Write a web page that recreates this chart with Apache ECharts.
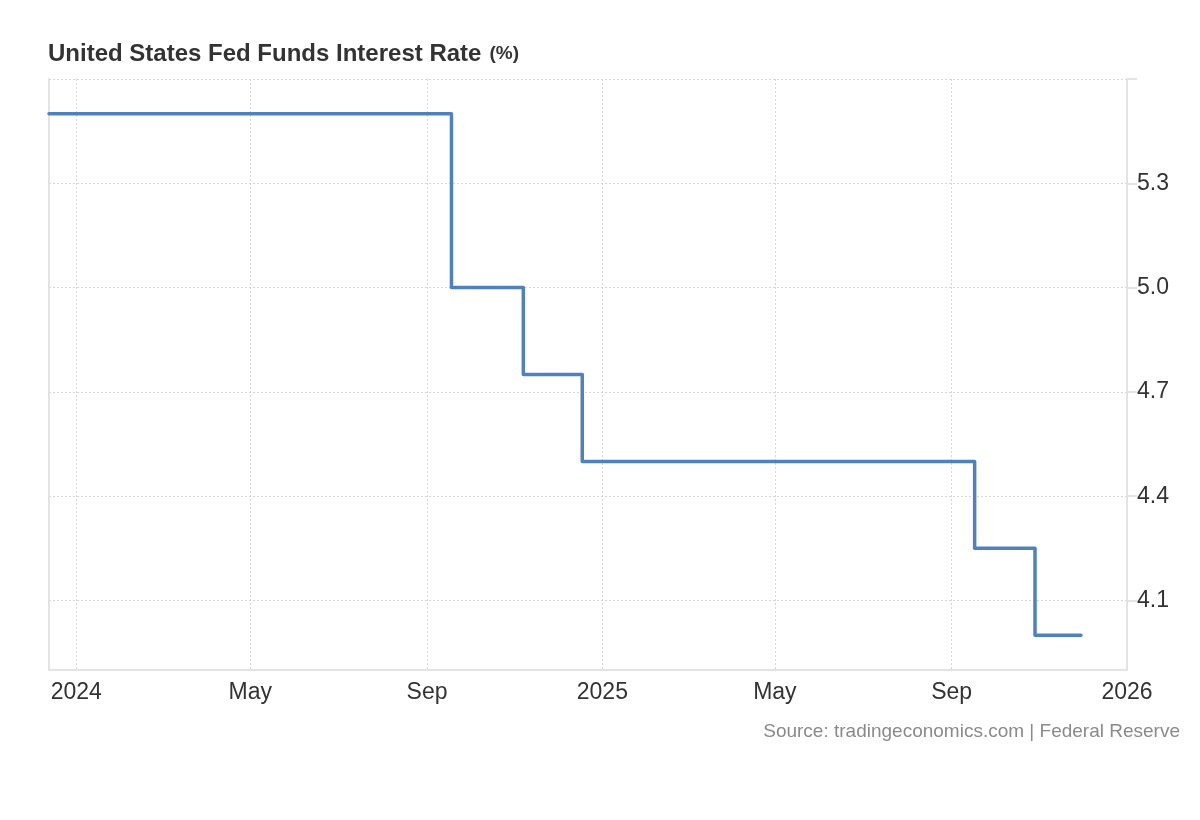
<!DOCTYPE html>
<html>
<head>
<meta charset="utf-8">
<script src="https://cdn.jsdelivr.net/npm/echarts@6/dist/echarts.min.js"></script>
<style>
html,body{margin:0;padding:0;background:#fff;}
#chart{width:1200px;height:820px;}
</style>
</head>
<body>
<div id="chart"></div>
<script>
// Data: dates of rate changes and the rate (%) in effect from each date
const changeDates = ['2023-12-13', '2024-09-18', '2024-11-07', '2024-12-18', '2025-09-17', '2025-10-29', '2025-11-30'];
const rates = [5.50, 5.00, 4.75, 4.50, 4.25, 4.00, 4.00];
const xTickDates = ['2024-01-01', '2024-05-01', '2024-09-01', '2025-01-01', '2025-05-01', '2025-09-01', '2026-01-01'];
const yTickValues = [4.1, 4.4, 4.7, 5.0, 5.3, 5.6];
const monthNames = ['Jan','Feb','Mar','Apr','May','Jun','Jul','Aug','Sep','Oct','Nov','Dec'];

const ts = d => new Date(d + 'T00:00:00Z').getTime();
const seriesData = changeDates.map((d, i) => [ts(d), rates[i]]);
const xTicks = xTickDates.map(ts);

const FONT = 'Liberation Sans, Arial, sans-serif';
const chart = echarts.init(document.getElementById('chart'), null, {renderer: 'canvas'});
const gridColor = '#e3e3e3';
const dotColor = '#d6d6d6';
chart.setOption({
  animation: false,
  backgroundColor: '#ffffff',
  textStyle: {fontFamily: FONT},
  title: {
    left: 48, top: 42, padding: 0,
    text: '{a|United States Fed Funds Interest Rate}{b|(%)}',
    textStyle: {
      rich: {
        a: {fontSize: 24, fontWeight: 'bold', color: '#333333', fontFamily: FONT},
        b: {fontSize: 19, fontWeight: 'bold', color: '#333333', fontFamily: FONT, padding: [0, 0, 0, 8]}
      }
    }
  },
  graphic: [{
    type: 'text', right: 20, top: 722,
    style: {text: 'Source: tradingeconomics.com | Federal Reserve', fill: '#8a8a8a', fontSize: 19, fontFamily: FONT}
  }],
  grid: {left: 49, right: 73, top: 79, bottom: 150},
  xAxis: {
    type: 'value',
    min: ts(changeDates[0]),
    max: ts('2026-01-01'),
    axisLine: {show: true, lineStyle: {color: gridColor, width: 2}},
    axisTick: {show: false, customValues: xTicks},
    splitLine: {show: true, lineStyle: {color: dotColor, type: [2, 2], width: 1}},
    axisLabel: {
      customValues: xTicks,
      color: '#333333', fontSize: 23, margin: 11,
      fontFamily: FONT,
      formatter: function (v) {
        const d = new Date(v);
        const m = d.getUTCMonth();
        return m === 0 ? String(d.getUTCFullYear()) : monthNames[m];
      }
    }
  },
  yAxis: [{
    type: 'value',
    position: 'right',
    min: 3.9, max: 5.6,
    axisLine: {show: true, lineStyle: {color: gridColor, width: 2}},
    axisTick: {show: true, length: 10, customValues: yTickValues, lineStyle: {color: gridColor, width: 2}},
    splitLine: {show: true, lineStyle: {color: dotColor, type: [2, 2], width: 1}},
    axisLabel: {
      customValues: yTickValues.slice(0, 5),
      color: '#333333', fontSize: 23, margin: 10,
      fontFamily: FONT,
      formatter: v => v.toFixed(1)
    }
  }, {
    type: 'value',
    position: 'left',
    min: 3.9, max: 5.6,
    axisLine: {show: true, lineStyle: {color: gridColor, width: 2}},
    axisTick: {show: false},
    axisLabel: {show: false},
    splitLine: {show: false}
  }],
  series: [{
    type: 'line',
    step: 'end',
    data: seriesData,
    showSymbol: false,
    lineStyle: {color: '#4f81bd', width: 3.5, cap: 'round', join: 'round'},
    silent: true
  }]
});
</script>
</body>
</html>
